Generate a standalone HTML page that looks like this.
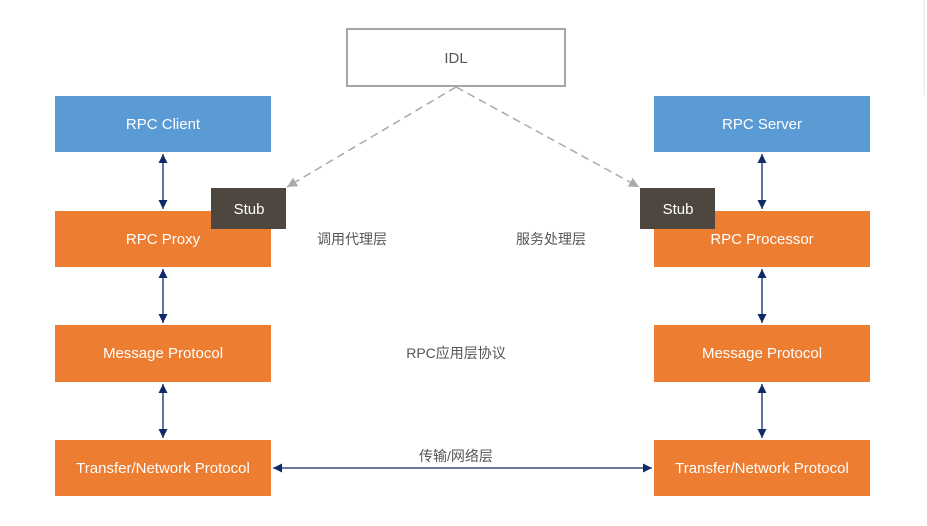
<!DOCTYPE html>
<html><head><meta charset="utf-8"><style>
html,body{margin:0;padding:0;background:#fff;}
svg{display:block;}
text{font-family:"Liberation Sans","Noto Sans CJK SC",sans-serif;}
</style></head><body>
<svg width="927" height="526" viewBox="0 0 927 526" xmlns="http://www.w3.org/2000/svg">
<defs>
<marker id="a" viewBox="0 0 10 10" refX="10" refY="5" markerWidth="9" markerHeight="9" markerUnits="userSpaceOnUse" orient="auto-start-reverse"><path d="M0,0 L10,5 L0,10 z" fill="#0f2a66"/></marker>
<marker id="g" viewBox="0 0 10 10" refX="10" refY="5" markerWidth="10" markerHeight="10" markerUnits="userSpaceOnUse" orient="auto"><path d="M0,0 L10,5 L0,10 z" fill="#aaa"/></marker>
</defs>
<line x1="924" y1="0" x2="924" y2="95" stroke="#e6e6e6" stroke-width="1"/>
<rect x="347" y="29" width="218" height="57" fill="#fff" stroke="#a6a6a6" stroke-width="2"/>
<text x="456" y="63" font-size="15" fill="#555" text-anchor="middle">IDL</text>
<line x1="456" y1="87" x2="287" y2="187" stroke="#aaa" stroke-width="1.5" stroke-dasharray="8,5" marker-end="url(#g)"/>
<line x1="456" y1="87" x2="639" y2="187" stroke="#aaa" stroke-width="1.5" stroke-dasharray="8,5" marker-end="url(#g)"/>
<g font-size="15" fill="#fff" text-anchor="middle">
<rect x="55" y="96" width="216" height="56" fill="#5b9bd5"/><text x="163" y="129">RPC Client</text>
<rect x="55" y="211" width="216" height="56" fill="#ed7d31"/><text x="163" y="244">RPC Proxy</text>
<rect x="55" y="325" width="216" height="57" fill="#ed7d31"/><text x="163" y="358">Message Protocol</text>
<rect x="55" y="440" width="216" height="56" fill="#ed7d31"/><text x="163" y="473">Transfer/Network Protocol</text>
<rect x="654" y="96" width="216" height="56" fill="#5b9bd5"/><text x="762" y="129">RPC Server</text>
<rect x="654" y="211" width="216" height="56" fill="#ed7d31"/><text x="762" y="244">RPC Processor</text>
<rect x="654" y="325" width="216" height="57" fill="#ed7d31"/><text x="762" y="358">Message Protocol</text>
<rect x="654" y="440" width="216" height="56" fill="#ed7d31"/><text x="762" y="473">Transfer/Network Protocol</text>
<rect x="211" y="188" width="75" height="41" fill="#4e4740"/><text x="249" y="214">Stub</text>
<rect x="640" y="188" width="75" height="41" fill="#4e4740"/><text x="678" y="214">Stub</text>
</g>
<g stroke="#0f2a66" stroke-width="1.3">
<line x1="163" y1="154" x2="163" y2="209" marker-start="url(#a)" marker-end="url(#a)"/>
<line x1="163" y1="269" x2="163" y2="323" marker-start="url(#a)" marker-end="url(#a)"/>
<line x1="163" y1="384" x2="163" y2="438" marker-start="url(#a)" marker-end="url(#a)"/>
<line x1="762" y1="154" x2="762" y2="209" marker-start="url(#a)" marker-end="url(#a)"/>
<line x1="762" y1="269" x2="762" y2="323" marker-start="url(#a)" marker-end="url(#a)"/>
<line x1="762" y1="384" x2="762" y2="438" marker-start="url(#a)" marker-end="url(#a)"/>
<line x1="273" y1="468" x2="652" y2="468" marker-start="url(#a)" marker-end="url(#a)"/>
</g>
<g font-size="14" fill="#555" text-anchor="middle">
<text x="352" y="244">调用代理层</text>
<text x="551" y="244">服务处理层</text>
<text x="456" y="358">RPC应用层协议</text>
<text x="456" y="461">传输/网络层</text>
</g>
</svg>
</body></html>
